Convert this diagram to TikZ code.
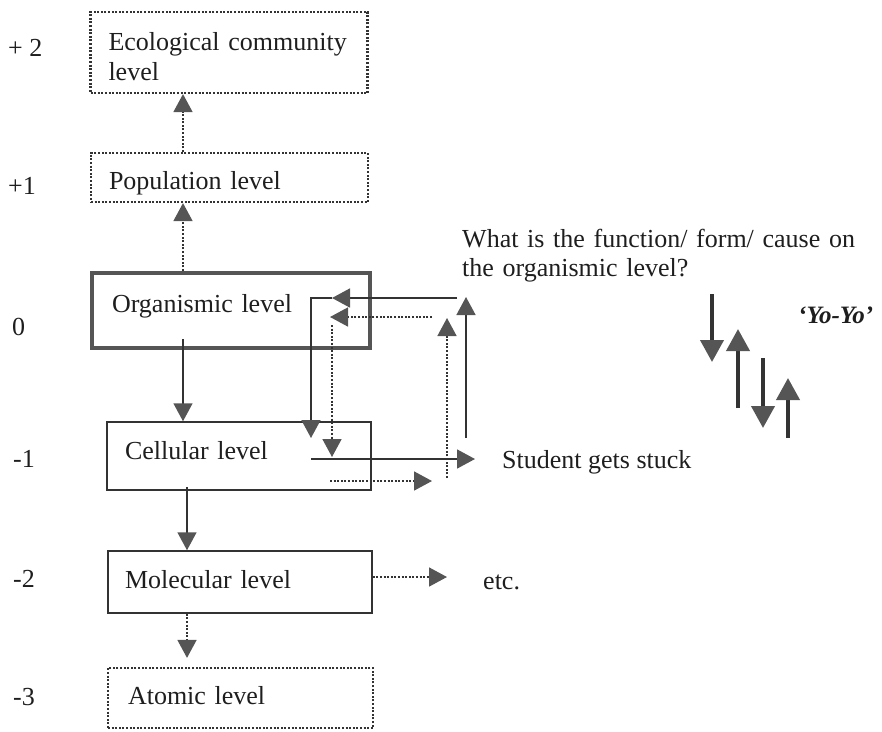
\documentclass[tikz,border=0pt]{standalone}
\usepackage{fontspec}
\setmainfont{Liberation Serif}
\usetikzlibrary{arrows.meta,calc}
\definecolor{ln}{HTML}{333333}
\definecolor{hd}{HTML}{555555}
\definecolor{tx}{HTML}{1E1E1E}
\tikzset{
  conn/.style={draw=ln, line width=1.6pt, -{Triangle[length=18pt,width=19pt,color=hd]}},
  dconn/.style={conn, dash pattern=on 2pt off 1.6pt},
  yoyo/.style={draw=ln, line width=4pt, -{Triangle[length=22pt,width=23pt,color=hd]}},
  lvlbox/.style={draw=ln, line width=1.5pt, rectangle, align=left, inner ysep=0pt, text=tx,
    font=\fontsize{26}{30}\selectfont},
  dlvlbox/.style={lvlbox, line width=2.2pt, dash pattern=on 2pt off 1.6pt},
  thickbox/.style={lvlbox, line width=4pt, draw=hd},
  txt/.style={inner sep=0pt, anchor=base west, text=tx, font=\fontsize{26}{29}\selectfont},
}
\begin{document}
\begin{tikzpicture}[x=1pt,y=-1pt]
\useasboundingbox (0,0) rectangle (882,731);

% level boxes
\node[dlvlbox, inner xsep=18pt, text width=241pt, text height=38pt, text depth=43pt] (eco) at (229,52.5) {Ecological community\\level};
\node[dlvlbox, inner xsep=18pt, text width=241pt, text height=36pt, text depth=13pt] (pop) at (229.5,177.5) {Population level};
\node[thickbox, inner xsep=20pt, text width=238pt, text height=39pt, text depth=36pt] (org) at (231,310.5) {Organismic level};
\node[lvlbox, inner xsep=18pt, text width=228pt, text height=37pt, text depth=31pt] (cell) at (239,456) {Cellular level};
\node[lvlbox, inner xsep=17pt, text width=230pt, text height=37pt, text depth=25pt] (mol) at (240,582) {Molecular level};
\node[dlvlbox, inner xsep=20pt, text width=225pt, text height=36pt, text depth=24pt] (atom) at (240.5,698) {Atomic level};

% level numbers
\node[txt] (lp2) at (8,56) {+ 2};
\node[txt] (lp1) at (8,194) {+1};
\node[txt] (l0) at (12,335) {0};
\node[txt] (lm1) at (13,467) {-1};
\node[txt] (lm2) at (13,587) {-2};
\node[txt] (lm3) at (13,705) {-3};

% other texts
\node[txt, text width=400pt, align=left] (quest) at (462,247) {What is the function/ form/ cause on\\the organismic level?};
\node[txt] (stuck) at (502,468) {Student gets stuck};
\node[txt] (etc) at (483,589) {etc.};
\node[txt, font=\fontsize{25}{29}\selectfont\bfseries\itshape] (yy) at (798,323) {‘Yo-Yo’};

% vertical axis connectors
\coordinate (ax) at (183,0);
\coordinate (bx) at (187,0);
\draw[dconn] (pop.north -| ax) -- (eco.south -| ax);
\draw[dconn] (org.north -| ax) -- (pop.south -| ax);
\draw[conn] ($(org.south -| ax)+(0,-11)$) -- (cell.north -| ax);
\draw[conn] ($(cell.south -| bx)+(0,-4)$) -- (mol.north -| bx);
\draw[dconn, shorten >=9pt] (mol.south -| bx) -- (atom.north -| bx);
\coordinate (etcend) at (447,577);
\draw[dconn] (mol.east |- etcend) -- (etcend);

% the loop between organismic and cellular level
\coordinate (a1) at (457,298);
\coordinate (a2) at (332,298);
\coordinate (a3) at (311,298);
\coordinate (a4) at (311,438);
\draw[conn] (a1) -- (a2);
\draw[conn] (a2) -- (a3) -- (a4);
\coordinate (b1) at (432,317);
\coordinate (b2) at (330,317);
\coordinate (b3) at (332,325);
\coordinate (b4) at (332,457);
\draw[dconn] (b1) -- (b2);
\draw[dconn] (b3) -- (b4);
\coordinate (c1) at (311,459);
\coordinate (c2) at (475,459);
\draw[conn] (c1) -- (c2);
\coordinate (d1) at (466,438);
\coordinate (d2) at (466,297);
\draw[conn] (d1) -- (d2);
\coordinate (e1) at (330,481);
\coordinate (e2) at (432,481);
\draw[dconn] (e1) -- (e2);
\coordinate (f1) at (447,478);
\coordinate (f2) at (447,318);
\draw[dconn] (f1) -- (f2);

% yo-yo arrows
\coordinate (y1s) at (712,294); \coordinate (y1e) at (712,362);
\coordinate (y2s) at (738,408); \coordinate (y2e) at (738,329);
\coordinate (y3s) at (763,358); \coordinate (y3e) at (763,428);
\coordinate (y4s) at (788,438); \coordinate (y4e) at (788,378);
\draw[yoyo] (y1s) -- (y1e);
\draw[yoyo] (y2s) -- (y2e);
\draw[yoyo] (y3s) -- (y3e);
\draw[yoyo] (y4s) -- (y4e);
\end{tikzpicture}
\end{document}
